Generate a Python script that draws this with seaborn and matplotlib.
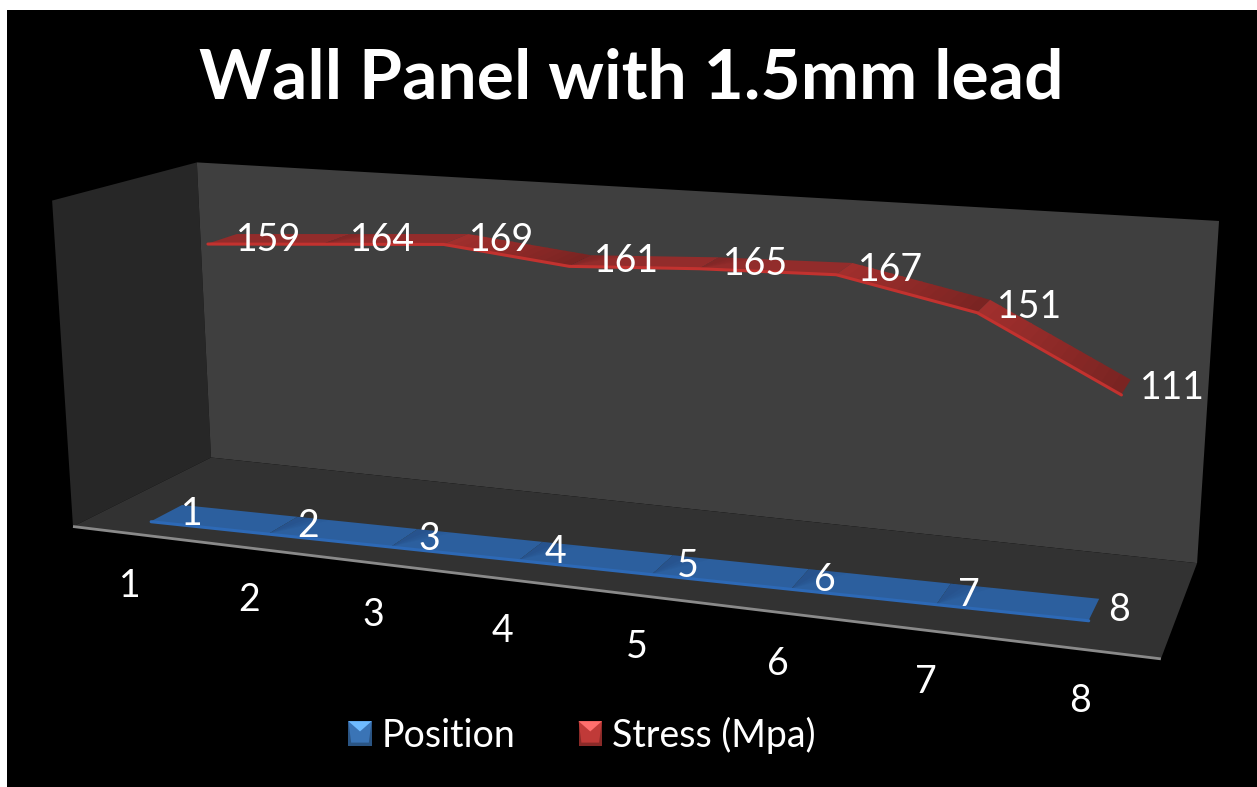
import numpy as np
import pandas as pd
import seaborn as sns
import matplotlib
matplotlib.use("Agg")
import matplotlib.pyplot as plt
from matplotlib.patches import Polygon, Rectangle, Patch
from matplotlib.legend_handler import HandlerBase
from matplotlib.colors import to_rgb

# Chart data
categories = [1, 2, 3, 4, 5, 6, 7, 8]
position = [1, 2, 3, 4, 5, 6, 7, 8]
stress = [159, 164, 169, 161, 165, 167, 151, 111]
title = "Wall Panel with 1.5mm lead"
series_names = ["Position", "Stress (Mpa)"]
value_max = 200.0

sns.set_theme(style="white")
plt.rcParams["font.family"] = ["Lato", "DejaVu Sans"]

W, H = 1257, 787
PT = 0.72  # points per pixel at 100 dpi
fig = plt.figure(figsize=(W / 100, H / 100), dpi=100, facecolor="white")
ax = fig.add_axes([0, 0, 1, 1])
ax.set_xlim(0, W)
ax.set_ylim(H, 0)
ax.axis("off")
ax.add_patch(Rectangle((7, 10), W - 7, H - 10, fc="black", ec="none", zorder=0))

# Camera of the 3D box, solved from where its corners land on the canvas.
box_unit = np.array([[0, 0, 0], [0, 1, 0], [0, 0, 1], [0, 1, 1],
                     [1, 0, 1], [1, 1, 1], [1, 0, 0]], float)
box_px = np.array([[73, 526], [52, 201], [211, 458], [197, 162],
                   [1197, 563], [1219, 221], [1161, 659]], float)
rows, rhs = [], []
for (a, b, c), (px, py) in zip(box_unit, box_px):
    rows.append([a, b, c, 1, 0, 0, 0, 0, -px * a, -px * b, -px * c])
    rows.append([0, 0, 0, 0, a, b, c, 1, -py * a, -py * b, -py * c])
    rhs += [px, py]
cam = np.append(np.linalg.lstsq(np.array(rows), np.array(rhs), rcond=None)[0], 1).reshape(3, 4)


def project(cat, value, depth):
    """Category number, value and depth (0 front, 1 back) to canvas pixels."""
    u = (np.asarray(cat, float) - 0.5) / 8.0
    v = np.asarray(value, float) / value_max
    h = cam @ np.array([u, v, np.full_like(u, depth), np.ones_like(u)])
    return h[0] / h[2], h[1] / h[2]


def wall(corners, color, z=1):
    pts = []
    for a, b, c in corners:
        h = cam @ np.array([a, b, c, 1.0])
        pts.append((h[0] / h[2], h[1] / h[2]))
    ax.add_patch(Polygon(pts, fc=color, ec="none", zorder=z))
    return pts


wall([(0, 0, 0), (0, 1, 0), (0, 1, 1), (0, 0, 1)], "#272727")
wall([(0, 0, 1), (0, 1, 1), (1, 1, 1), (1, 0, 1)], "#3f3f3f")
floor = wall([(0, 0, 0), (0, 0, 1), (1, 0, 1), (1, 0, 0)], "#323232", z=2)
ax.plot([floor[0][0], floor[3][0]], [floor[0][1], floor[3][1]],
        color="#8a8a8a", lw=2, solid_capstyle="butt", zorder=3)

RIBBON_HALF = 0.11
SERIES_DEPTH = {series_names[0]: 0.25, series_names[1]: 0.75}


def quad(fx, fy, bx, by, color, zorder, alpha=1.0):
    ax.add_patch(Polygon([(fx[0], fy[0]), (fx[1], fy[1]), (bx[1], by[1]), (bx[0], by[0])],
                         fc=color, ec="none", zorder=zorder, alpha=alpha))


def ribbon(name, values, flat, light, dark, edge, zorder):
    """Draw one series as a shaded 3D ribbon with a lit front edge."""
    flat, light, dark = (np.array(to_rgb(c)) for c in (flat, light, dark))
    d = SERIES_DEPTH[name]
    xs = np.array(categories, float)
    vals = np.array(values, float)
    fx, fy = project(xs, vals, d - RIBBON_HALF)
    bx, by = project(xs, vals, d + RIBBON_HALF)
    for i in range(len(xs) - 1):
        seg_f = np.array([fx[i], fx[i + 1]]), np.array([fy[i], fy[i + 1]])
        seg_b = np.array([bx[i], bx[i + 1]]), np.array([by[i], by[i + 1]])
        if vals[i + 1] < vals[i]:
            # Falling stretches catch the light at their start and darken along their length
            steps = 14
            for k in range(steps):
                t0, t1 = k / steps, min((k + 1.2) / steps, 1)
                col = light + (dark - light) * (k / (steps - 1))
                quad([seg_f[0][0] + (seg_f[0][1] - seg_f[0][0]) * t0, seg_f[0][0] + (seg_f[0][1] - seg_f[0][0]) * t1],
                     [seg_f[1][0] + (seg_f[1][1] - seg_f[1][0]) * t0, seg_f[1][0] + (seg_f[1][1] - seg_f[1][0]) * t1],
                     [seg_b[0][0] + (seg_b[0][1] - seg_b[0][0]) * t0, seg_b[0][0] + (seg_b[0][1] - seg_b[0][0]) * t1],
                     [seg_b[1][0] + (seg_b[1][1] - seg_b[1][0]) * t0, seg_b[1][0] + (seg_b[1][1] - seg_b[1][0]) * t1],
                     col, zorder)
        else:
            quad(seg_f[0], seg_f[1], seg_b[0], seg_b[1], flat, zorder)
            # Rising or level stretches start with a faint shadowed wedge
            if i > 0:
                for reach in (0.10, 0.16, 0.22, 0.28):
                    tx = seg_b[0][0] + (seg_b[0][1] - seg_b[0][0]) * reach
                    ty = seg_b[1][0] + (seg_b[1][1] - seg_b[1][0]) * reach
                    ax.add_patch(Polygon([(fx[i], fy[i]), (bx[i], by[i]), (tx, ty)],
                                         fc="black", ec="none", alpha=0.022, zorder=zorder))
    edge_df = pd.DataFrame({"x": fx, "y": fy + 0.5})
    sns.lineplot(data=edge_df, x="x", y="y", ax=ax, color=edge, linewidth=2.2,
                 sort=False, estimator=None, legend=False, zorder=zorder + 0.1)
    ax.set_xlim(0, W)
    ax.set_ylim(H, 0)
    ax.axis("off")


ribbon(series_names[0], position, "#2c5f9e", "#2c5f9e", "#2c5f9e", "#2d69b6", 4)
ribbon(series_names[1], stress, "#922c2b", "#a02f2d", "#7a2422", "#c2322f", 4)

# Value labels sit to the right of each point
text_kw = dict(color="white", ha="center", va="center", fontsize=27, zorder=8)
label_offsets = {series_names[0]: (25, -1), series_names[1]: (46, -1)}
for s, vals in zip(series_names, (position, stress)):
    px, py = project(categories, vals, SERIES_DEPTH[s])
    dx, dy = label_offsets[s]
    for x0, y0, v in zip(px, py, vals):
        ax.annotate(str(v), (x0, y0), xytext=(dx * PT, dy * PT), textcoords="offset points", **text_kw)

# Category labels under the front floor edge
cx, cy = project(categories, np.zeros(8), 0)
for x0, y0, c in zip(cx, cy, categories):
    ax.annotate(str(c), (x0, y0), xytext=(-1 * PT, -52 * PT), textcoords="offset points", **text_kw)

ax.text(631, 79, title, color="white", ha="center", va="center", fontsize=50, fontweight="bold", zorder=8)


class BevelSwatch(HandlerBase):
    """Legend key drawn as a small bevelled square."""

    def create_artists(self, legend, orig, xd, yd, w, h, fs, trans):
        base = np.array(to_rgb(orig.get_facecolor()[:3]))
        x0, y0 = -xd, -yd
        c = [(x0, y0), (x0 + w, y0), (x0 + w, y0 + h), (x0, y0 + h)]
        apex = (x0 + w / 2, y0 + h * 0.58)
        low_l = (x0 + w * 0.12, y0 + h * 0.12)
        low_r = (x0 + w * 0.88, y0 + h * 0.12)
        faces = [(c, base * 0.72),
                 ([low_l, low_r, c[2], c[3]], base),
                 ([c[3], c[2], apex], np.minimum(base * 1.3 + 0.14, 1))]
        return [Polygon(p, fc=col, ec="none", transform=trans) for p, col in faces]


handles = [Patch(fc="#3a74b6"), Patch(fc="#c03a38")]
leg = ax.legend(handles, series_names, handler_map={Patch: BevelSwatch()}, ncol=2, frameon=False,
                loc="center", bbox_to_anchor=(582 / W, 1 - 735 / H), bbox_transform=fig.transFigure,
                fontsize=27, labelcolor="white", handlelength=0.62, handleheight=0.62,
                handletextpad=0.27, columnspacing=1.68, borderpad=0, borderaxespad=0)
leg.set_zorder(9)

fig.savefig("out.png", dpi=100, facecolor=fig.get_facecolor())
